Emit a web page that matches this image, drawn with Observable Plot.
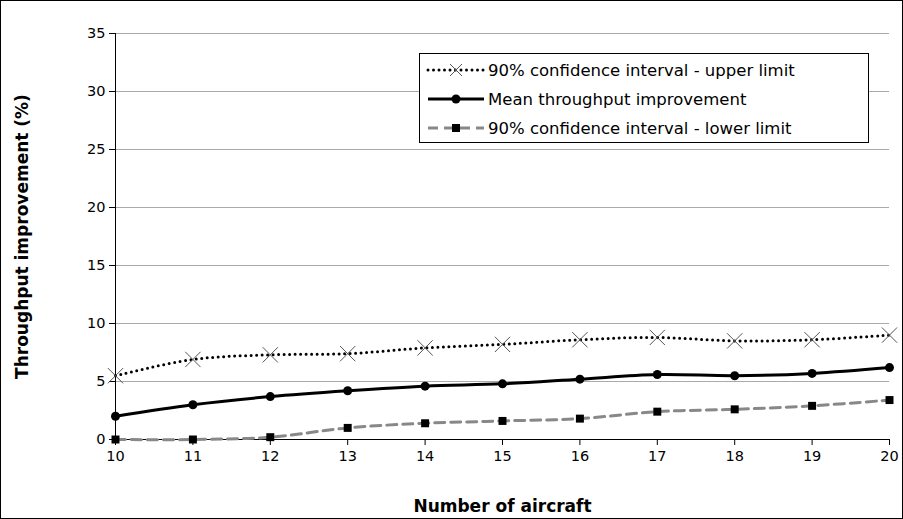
<!DOCTYPE html>
<html><head><meta charset="utf-8">
<script src="https://cdn.jsdelivr.net/npm/d3@7"></script>
<script src="https://cdn.jsdelivr.net/npm/@observablehq/plot@0.6"></script>
<style>
body{margin:0;background:#fff;font-family:"DejaVu Sans",sans-serif}
#wrap{position:relative;width:901px;height:517px;border:1px solid #000}
#legend{position:absolute;left:418px;top:52px;width:448px;height:88px;border:1px solid #000;background:#fff;font-size:16.5px}
#legend div{display:flex;align-items:center;height:26px;margin-top:3px}
#legend svg{margin:0 2px 0 6px}
</style></head><body>
<div id="wrap"><div id="chart"></div>
<div id="legend">
<div><svg width="60" height="14"><line x1="2" y1="7" x2="58" y2="7" stroke="#000" stroke-width="3" stroke-dasharray="0,5.5" stroke-linecap="round"/><path d="M24,1L36,13M36,1L24,13" stroke="#555"/></svg>90% confidence interval - upper limit</div>
<div><svg width="60" height="14"><line x1="2" y1="7" x2="58" y2="7" stroke="#000" stroke-width="3"/><circle cx="30" cy="7" r="4.5"/></svg>Mean throughput improvement</div>
<div><svg width="60" height="14"><line x1="2" y1="7" x2="58" y2="7" stroke="#888" stroke-width="3" stroke-dasharray="10,6"/><rect x="26" y="3" width="8" height="8"/></svg>90% confidence interval - lower limit</div>
</div></div>
<script>
const aircraft = [10,11,12,13,14,15,16,17,18,19,20];
const upper = [5.5,6.9,7.3,7.4,7.9,8.2,8.6,8.8,8.5,8.6,9.0];
const mean = [2.0,3.0,3.7,4.2,4.6,4.8,5.2,5.6,5.5,5.7,6.2];
const lower = [0,0,0.2,1.0,1.4,1.6,1.8,2.4,2.6,2.9,3.4];
const yTicks = [0,5,10,15,20,25,30,35];

const row = arr => aircraft.map((x,i)=>({x, y: arr[i]}));
const U = row(upper), M = row(mean), L = row(lower);

const chart = Plot.plot({
  width: 901, height: 517,
  marginLeft: 114, marginRight: 13, marginTop: 32, marginBottom: 79,
  style: {fontFamily: "DejaVu Sans, sans-serif", fontSize: "14.5px", color: "#000", background: "#fff"},
  x: {domain: [10,20]},
  y: {domain: [0,35]},
  marks: [
    Plot.gridY(yTicks.filter(d=>d>0), {stroke: "#aaa", strokeOpacity: 1}),
    Plot.axisX({ticks: aircraft, tickFormat: d => d, tickSize: 6, label: "Number of aircraft", labelAnchor: "center", labelOffset: 72, tickPadding: 5}),
    Plot.axisY({ticks: yTicks, tickSize: 6, tickPadding: 4, label: "Throughput improvement (%)", labelAnchor: "center", labelOffset: 100, labelArrow: "none"}),
    Plot.ruleY([0]),
    Plot.ruleX([10]),
    Plot.line(L, {x:"x", y:"y", stroke:"#888", strokeWidth:3, strokeDasharray:"10,6", curve:"catmull-rom"}),
    Plot.dot(L, {x:"x", y:"y", symbol:"square", fill:"#000", r:4.5}),
    Plot.line(M, {x:"x", y:"y", stroke:"#000", strokeWidth:3, curve:"catmull-rom"}),
    Plot.dot(M, {x:"x", y:"y", fill:"#000", r:4.5}),
    Plot.line(U, {x:"x", y:"y", stroke:"#000", strokeWidth:3, strokeDasharray:"0,5.5", strokeLinecap:"round", curve:"catmull-rom"}),
    Plot.dot(U, {x:"x", y:"y", symbol:"times", stroke:"#555", strokeWidth:1, r:7})
  ]
});
d3.select(chart).selectAll("[aria-label='x-axis label'] text, [aria-label='y-axis label'] text").style("font-weight","bold").style("font-size","17px");
d3.select(chart).selectAll("[aria-label='x-axis label'] text").text("Number of aircraft");
d3.select(chart).selectAll("[aria-label='y-axis label'] text").text("Throughput improvement (%)");
document.getElementById("chart").append(chart);
</script></body></html>
